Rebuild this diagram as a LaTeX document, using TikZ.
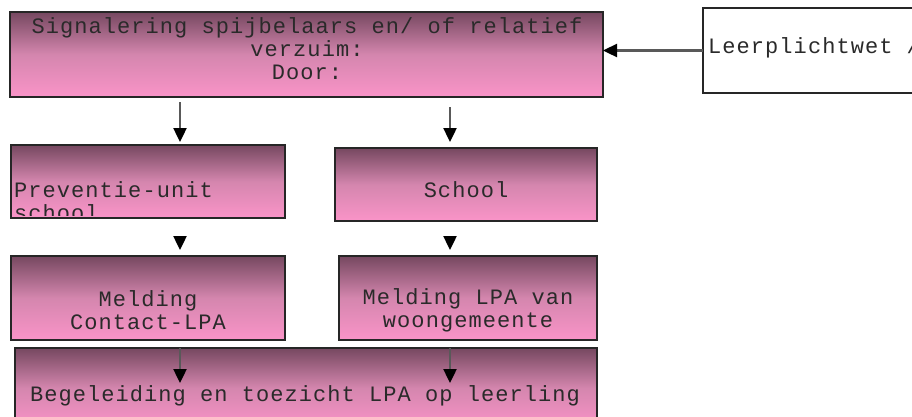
\documentclass[tikz,border=0pt]{standalone}
\usepackage{fontspec}
\newfontfamily\boxfont[LetterSpace=4.8]{Liberation Mono}
\usetikzlibrary{arrows.meta,calc}
\definecolor{boxtop}{HTML}{764860}
\definecolor{boxmid}{HTML}{D486AE}
\definecolor{boxbot}{HTML}{FA94C8}
\definecolor{txtcol}{HTML}{2A2A2A}
\begin{document}
\begin{tikzpicture}[x=1pt,y=1pt,
  box/.style={draw=black!85, line width=1.5pt, top color=boxtop, bottom color=boxbot, middle color=boxmid,
    anchor=north west, inner sep=0pt, outer sep=0pt},
  plainbox/.style={draw=black!85, line width=1.5pt, fill=white, anchor=north west, inner sep=0pt, outer sep=0pt},
  txt/.style={font=\boxfont\fontsize{22}{23}\selectfont, text=txtcol, inner sep=0pt, align=center},
  arr/.style={draw=black!65, line width=2.4pt, -{Triangle[length=14pt,width=13pt,fill=black,color=black]}}
]
\useasboundingbox (0,0) rectangle (912,-416);
\coordinate (xl) at (180,0);
\coordinate (xr) at (450,0);

% boxes
\node[box, minimum width=593pt, minimum height=85pt] (top) at (10,-12) {};
\node[plainbox, minimum width=230pt, minimum height=85pt] (law) at (703,-8) {};
\node[box, minimum width=274pt, minimum height=73pt] (prev) at (11,-145) {};
\node[box, minimum width=262pt, minimum height=73pt] (school) at (335,-148) {};
\node[box, minimum width=274pt, minimum height=84pt] (m1) at (11,-256) {};
\node[box, minimum width=258pt, minimum height=84pt] (m2) at (339,-256) {};
\node[box, minimum width=582pt, minimum height=80pt] (beg) at (15,-348) {};

% texts
\node[txt] (ttop) at (307,-49) {Signalering spijbelaars en/ of relatief\\verzuim:\\Door:};
\node[txt, anchor=west] (tlaw) at (708,-48) {Leerplichtwet /};
\begin{scope}
  \clip ([shift={(0.8pt,-0.8pt)}]prev.north west) rectangle ([shift={(-0.8pt,3pt)}]prev.south east);
  \node[txt, anchor=west, align=left] (tprev) at (14,-201.5) {Preventie-unit\\school};
\end{scope}
\node[txt] (tschool) at (466,-190) {School};
\node[txt] (tm1) at (148,-310) {Melding\\Contact-LPA};
\node[txt] (tm2) at (468,-310) {Melding LPA van\\woongemeente};
\node[txt] (tbeg) at (305,-396) {Begeleiding en toezicht LPA op leerling};

% connectors
\draw[arr, shorten <=5pt, shorten >=3pt] (top.south -| xl) -- (prev.north -| xl);
\draw[arr, shorten <=10pt, shorten >=6pt] (top.south -| xr) -- (school.north -| xr);
\draw[arr, shorten <=18pt, shorten >=6pt] (prev.south -| xl) -- (m1.north -| xl);
\draw[arr, shorten <=15pt, shorten >=6pt] (school.south -| xr) -- (m2.north -| xr);
\coordinate (e1) at ($(beg.north -| xl)+(0,-35)$);
\coordinate (e2) at ($(beg.north -| xr)+(0,-35)$);
\draw[arr, shorten <=8pt] (m1.south -| xl) -- (e1);
\draw[arr, shorten <=8pt] (m2.south -| xr) -- (e2);
\draw[arr] (law.west) -- (law.west -| top.east);
\end{tikzpicture}
\end{document}
